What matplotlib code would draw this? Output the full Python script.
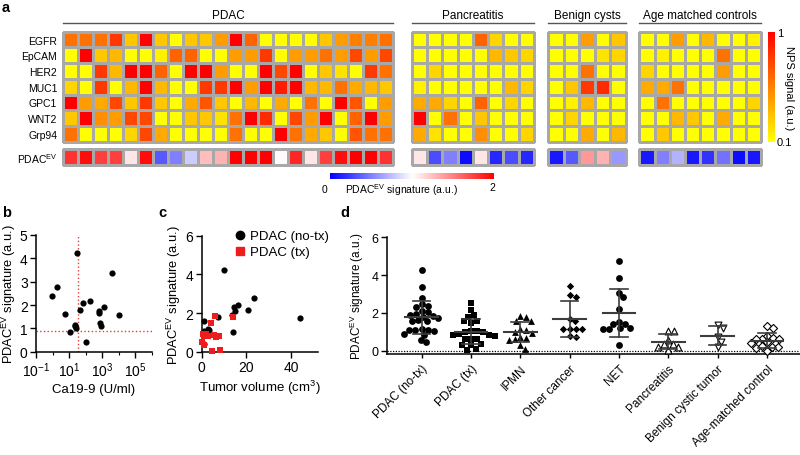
import numpy as np
import matplotlib
matplotlib.use("Agg")
import matplotlib.pyplot as plt
from matplotlib.lines import Line2D
from matplotlib.cm import ScalarMappable
from matplotlib.colors import Normalize

plt.rcParams['font.family'] = ['Liberation Sans', 'DejaVu Sans']
plt.rcParams['mathtext.fontset'] = 'custom'
plt.rcParams['mathtext.rm'] = 'Liberation Sans'
plt.rcParams['mathtext.it'] = 'Liberation Sans:italic'

""" Panel a: NPS heatmaps """
markers = ['EGFR', 'EpCAM', 'HER2', 'MUC1', 'GPC1', 'WNT2', 'Grp94']
group_names = ['PDAC', 'Pancreatitis', 'Benign cysts', 'Age matched controls']

pdac_nps = [
  [0.6, 0.6, 0.6, 0.8, 0.3, 1.0, 0.3, 0.1, 0.3, 0.3, 0.45, 1.0, 0.65, 0.1, 0.1, 0.1, 0.1, 0.3, 0.45, 0.55, 0.55, 0.6],
  [0.1, 1.0, 0.3, 0.35, 0.1, 0.1, 0.15, 0.65, 0.65, 0.1, 0.1, 0.45, 0.45, 0.8, 0.1, 0.45, 0.45, 0.6, 0.45, 0.75, 0.45, 0.75],
  [0.1, 0.1, 0.8, 0.35, 1.0, 1.0, 0.65, 0.1, 1.0, 1.0, 0.45, 0.1, 0.1, 1.0, 0.75, 1.0, 0.1, 0.3, 0.2, 0.1, 0.8, 0.6],
  [0.25, 0.1, 0.8, 0.1, 0.35, 1.0, 0.35, 0.1, 0.1, 0.8, 0.8, 1.0, 0.45, 1.0, 0.9, 1.0, 0.35, 0.35, 0.6, 0.4, 0.35, 0.3],
  [1.0, 0.45, 0.4, 0.75, 0.3, 0.8, 0.3, 0.1, 0.4, 0.7, 0.3, 0.1, 0.35, 0.1, 0.4, 0.1, 0.6, 0.1, 1.0, 0.7, 0.1, 0.45],
  [0.3, 1.0, 0.5, 0.45, 0.75, 0.75, 0.1, 0.1, 0.3, 0.3, 0.2, 0.6, 1.0, 0.85, 0.1, 0.75, 0.45, 1.0, 0.1, 0.65, 1.0, 0.45],
  [0.6, 0.1, 0.1, 0.1, 0.25, 0.75, 0.4, 0.1, 0.1, 0.1, 0.1, 0.6, 0.1, 0.1, 1.0, 0.6, 0.4, 0.3, 0.1, 0.7, 0.6, 0.6],
]
pdac_ev = [1.8, 1.95, 1.75, 1.75, 1.1, 1.95, 0.35, 0.5, 0.8, 1.25, 1.3, 2.0, 2.0, 2.0, 1.02, 1.85, 1.1, 1.75, 1.95, 2.0, 2.0, 1.8]

panc_nps = [
  [0.1, 0.1, 0.1, 0.1, 0.65, 0.25, 0.1, 0.1],
  [0.1, 0.1, 0.1, 0.1, 0.1, 0.35, 0.3, 0.25],
  [0.1, 0.25, 0.1, 0.1, 0.1, 0.1, 0.1, 0.1],
  [0.15, 0.1, 0.1, 0.1, 0.1, 0.1, 0.35, 0.25],
  [0.4, 0.4, 0.25, 0.1, 0.65, 0.1, 0.25, 0.1],
  [1.0, 0.1, 0.6, 0.1, 0.3, 0.1, 0.1, 0.1],
  [0.4, 0.2, 0.1, 0.1, 0.5, 0.1, 0.1, 0.25],
]
panc_ev = [1.1, 0.3, 0.5, 0.05, 1.1, 0.15, 0.3, 0.15]

cyst_nps = [
  [0.1, 0.1, 0.45, 0.1, 0.3],
  [0.1, 0.1, 0.1, 0.2, 0.25],
  [0.1, 0.1, 0.6, 0.1, 0.1],
  [0.1, 0.3, 0.8, 0.85, 0.1],
  [0.1, 0.15, 0.35, 0.1, 0.1],
  [0.1, 0.25, 0.1, 0.1, 0.1],
  [0.1, 0.1, 0.4, 0.1, 0.35],
]
cyst_ev = [0.1, 0.35, 1.4, 1.3, 0.6]

ctrl_nps = [
  [0.1, 0.1, 0.45, 0.1, 0.35, 0.1, 0.1, 0.15],
  [0.1, 0.15, 0.1, 0.1, 0.1, 0.6, 0.1, 0.1],
  [0.25, 0.1, 0.1, 0.1, 0.1, 0.45, 0.1, 0.1],
  [0.4, 0.4, 0.6, 0.1, 0.1, 0.1, 0.1, 0.1],
  [0.1, 0.6, 0.1, 0.1, 0.1, 0.1, 0.1, 0.25],
  [0.1, 0.1, 0.35, 0.3, 0.1, 0.4, 0.1, 0.1],
  [0.1, 0.3, 0.1, 0.1, 0.1, 0.1, 0.1, 0.1],
]
ctrl_ev = [0.1, 0.5, 0.7, 0.1, 0.2, 0.45, 0.05, 0.1]

""" Panel b: Ca19-9 vs signature """
ca199 = [0.93, 1.9, 5.5, 12, 23, 24, 25, 30, 49, 74, 112, 186, 620, 640, 760, 870, 1320, 3900, 11200]
sig_b = [2.4, 2.79, 1.61, 0.83, 1.14, 1.08, 1.02, 4.23, 1.8, 2.09, 0.43, 2.16, 1.73, 1.64, 1.21, 1.09, 1.9, 3.37, 1.59]
ca199_cut = 37
sig_cut = 0.87

""" Panel c: tumor volume vs signature """
vol_notx = [1.2, 1.2, 2.2, 3.0, 3.4, 1.0, 10.0, 7.2, 13.9, 13.6, 14.5, 14.9, 16.1, 20.9, 23.4, 43.9]
sig_notx = [1.6, 1.05, 1.09, 1.2, 1.12, 0.42, 4.24, 1.81, 1.03, 1.91, 2.29, 2.12, 2.41, 2.17, 2.79, 1.76]
vol_tx = [0.3, 1.2, 0.9, 1.9, 3.0, 4.0, 4.8, 5.5, 6.0, 6.3, 7.8, 8.2, 13.9, 0.5]
sig_tx = [0.52, 0.83, 0.36, 0.91, 0.81, 1.5, 0.05, 0.86, 1.86, 0.74, 0.79, 0.09, 1.78, 0.9]

""" Panel d: signature per cohort """
cohorts = ['PDAC (no-tx)', 'PDAC (tx)', 'IPMN', 'Other cancer', 'NET',
           'Pancreatitis', 'Benign cystic tumor', 'Age-matched control']
d_notx = [4.27, 3.39, 2.78, 2.45, 2.38, 2.32, 2.12, 2.05, 1.95, 1.9, 1.85, 1.8, 1.75,
          1.62, 1.58, 1.55, 1.15, 1.12, 1.1, 1.08, 1.05, 0.88, 0.85, 0.58, 0.45]
d_tx = [2.5, 2.15, 1.88, 1.8, 1.59, 1.55, 1.48, 1.05, 1.03, 1.0, 0.98, 0.88, 0.85,
        0.83, 0.8, 0.63, 0.6, 0.6, 0.35, 0.3, 0.3, 0.09, 0.04]
d_ipmn = [1.82, 1.78, 1.6, 1.55, 1.15, 1.1, 1.0, 0.95, 0.75, 0.65, 0.6, 0.55, 0.32, 0.12]
d_other = [3.42, 2.95, 2.86, 1.69, 1.59, 1.13, 1.13, 1.13, 1.13, 0.76, 0.72]
d_net = [4.73, 3.83, 3.07, 2.82, 2.19, 1.5, 1.41, 1.41, 1.2, 1.18, 1.16, 1.16, 0.32]
d_panc = [1.06, 1.06, 0.58, 0.35, 0.35, 0.21, 0.21, 0.02]
d_cyst = [1.36, 1.23, 0.74, 0.48, 0.18]
d_ctrl = [1.31, 1.22, 0.78, 0.69, 0.6, 0.6, 0.6, 0.44, 0.4, 0.26, 0.21, 0.18, 0.14, 0.0]

W, H = 800, 456
fig = plt.figure(figsize=(W / 100, H / 100), dpi=100)


def px_axes(x0, y0, x1, y1):
  return fig.add_axes([x0 / W, 1 - y1 / H, (x1 - x0) / W, (y1 - y0) / H])


def clean(ax):
  ax.set_xticks([])
  ax.set_yticks([])
  for s in ax.spines.values():
    s.set_visible(False)


def beeswarm(vals, xs, ys, dia):
  """ greedy swarm offsets, xs/ys = pixels per data unit """
  vals = np.asarray(vals, float)
  offs = np.zeros(len(vals))
  placed = []
  for i in np.argsort(-vals):
    y = vals[i] * ys
    cands = [0.0]
    for px, py in placed:
      dy = y - py
      if abs(dy) < dia:
        dx = np.sqrt(dia * dia - dy * dy)
        cands += [px + dx, px - dx]
    cands.sort(key=abs)
    for c in cands:
      if all((c - px) ** 2 + (y - py) ** 2 >= dia * dia - 1e-6 for px, py in placed):
        offs[i] = c
        placed.append((c, y))
        break
  return offs / xs


""" ---- panel a ---- """
nps_cmap = plt.get_cmap('autumn_r')
ev_cmap = plt.get_cmap('bwr')
grid_col = '#a8a8a8'

heat_layout = [(62.7, 393.3), (411.7, 534.0), (548.3, 625.7), (639.3, 761.0)]
heat_data = [(pdac_nps, pdac_ev), (panc_nps, panc_ev), (cyst_nps, cyst_ev), (ctrl_nps, ctrl_ev)]

for gi, (name, (x0, x1), (nps, ev)) in enumerate(zip(group_names, heat_layout, heat_data)):
  ax = px_axes(x0, 32.7, x1, 142.7)
  m = ax.pcolormesh(np.asarray(nps), cmap=nps_cmap, vmin=0.1, vmax=1.0,
                    edgecolors=grid_col, linewidth=0.75)
  m.set_clip_on(False)
  ax.set_xlim(0, len(nps[0]))
  ax.set_ylim(len(nps), 0)
  clean(ax)
  ax.plot([0, 1], [1.077, 1.077], transform=ax.transAxes, color='#555555', lw=1.0, clip_on=False)
  ax.text(0.5, 1.15, name, transform=ax.transAxes, ha='center', va='center', fontsize=8.5)
  if gi == 0:
    ax.set_yticks(np.arange(len(markers)) + 0.5)
    ax.set_yticklabels(markers, fontsize=7.5)
    ax.tick_params(axis='y', length=0, pad=4)

  axe = px_axes(x0, 150.0, x1, 165.7)
  m = axe.pcolormesh(np.asarray([ev]), cmap=ev_cmap, vmin=0, vmax=2,
                     edgecolors=grid_col, linewidth=0.75)
  m.set_clip_on(False)
  axe.set_xlim(0, len(ev))
  axe.set_ylim(1, 0)
  clean(axe)
  if gi == 0:
    axe.set_yticks([0.5])
    axe.set_yticklabels(['PDAC$^{\\rm EV}$'], fontsize=7.5)
    axe.tick_params(axis='y', length=0, pad=4)

fig.text(2 / W, 1 - 1 / H, 'a', fontsize=10.5, fontweight='bold', va='top', ha='left')

# NPS colorbar
cax = px_axes(767.7, 33.0, 775.0, 142.5)
cb = fig.colorbar(ScalarMappable(norm=Normalize(0.1, 1.0), cmap=nps_cmap), cax=cax)
cb.outline.set_visible(False)
cb.set_ticks([0.1, 1.0])
cb.set_ticklabels(['0.1', '1'])
cb.ax.tick_params(length=0, pad=1.5, labelsize=8)
cb.set_label('NPS signal (a.u.)', rotation=270, fontsize=8, labelpad=1)

# PDAC EV colorbar
cax2 = px_axes(330.0, 173.5, 494.3, 179.5)
cb2 = fig.colorbar(ScalarMappable(norm=Normalize(0, 2), cmap=ev_cmap), cax=cax2, orientation='horizontal')
cb2.outline.set_visible(False)
cb2.set_ticks([])
fig.text(324 / W, 1 - 190 / H, '0', fontsize=7.5, ha='center', va='center')
fig.text(492.7 / W, 1 - 188.5 / H, '2', fontsize=7.5, ha='center', va='center')
fig.text(401.7 / W, 1 - 190 / H, 'PDAC$^{\\rm EV}$ signature (a.u.)', fontsize=7.5, ha='center', va='center')


def style_axes(ax, labsize):
  for s in ['top', 'right']:
    ax.spines[s].set_visible(False)
  for s in ['left', 'bottom']:
    ax.spines[s].set_linewidth(1.1)
  ax.tick_params(direction='out', length=4, width=1.0, labelsize=labsize, pad=2)
  ax.tick_params(which='minor', direction='out', length=2.5, width=0.8)


sig_label = 'PDAC$^{\\rm EV}$ signature (a.u.)'

""" ---- panel b ---- """
axb = px_axes(36.0, 236.0, 151.7, 352.7)
axb.set_xscale('log')
axb.set_xlim(0.1, 1e6)
axb.set_ylim(0, 5)
axb.axvline(ca199_cut, color='#e0403a', ls=':', lw=1.0)
axb.axhline(sig_cut, color='#e0403a', ls=':', lw=1.0)
axb.scatter(ca199, sig_b, s=20, c='black', zorder=3, clip_on=False, linewidths=0)
axb.set_xticks([0.1, 10, 1e3, 1e5])
axb.set_xticklabels(['$10^{-1}$', '$10^{1}$', '$10^{3}$', '$10^{5}$'])
axb.set_xticks([1, 100, 1e4, 1e6], minor=True)
axb.set_xticklabels([], minor=True)
axb.set_yticks(range(0, 6))
style_axes(axb, 10)
axb.set_xlabel('Ca19-9 (U/ml)', fontsize=9.5, labelpad=3)
axb.set_ylabel(sig_label, fontsize=9.3, labelpad=1)
fig.text(2 / W, 1 - 206 / H, 'b', fontsize=10.5, fontweight='bold', va='top', ha='left')

""" ---- panel c ---- """
axc = px_axes(201.7, 236.7, 318.0, 352.7)
axc.set_xlim(0, 52)
axc.set_ylim(0, 6)
axc.scatter(vol_notx, sig_notx, s=20, c='black', marker='o', zorder=3, clip_on=False, linewidths=0)
axc.scatter(vol_tx, sig_tx, s=22, c='#ee1c1c', marker='s', zorder=4, clip_on=False, linewidths=0)
axc.set_xticks([0, 20, 40])
axc.set_yticks([0, 2, 4, 6])
style_axes(axc, 10)
axc.set_xlabel('Tumor volume (cm$^{3}$)', fontsize=9.5, labelpad=3)
axc.set_ylabel(sig_label, fontsize=9.3, labelpad=2)
handles = [Line2D([], [], ls='', marker='o', color='black', markersize=6, label='PDAC (no-tx)'),
           Line2D([], [], ls='', marker='s', color='#ee1c1c', markersize=6, label='PDAC (tx)')]
axc.legend(handles=handles, loc='upper left', bbox_to_anchor=(0.28, 1.05), frameon=False,
           fontsize=9.5, handlelength=0.8, handletextpad=0.4, borderpad=0, labelspacing=0.3,
           borderaxespad=0)
fig.text(158 / W, 1 - 206 / H, 'c', fontsize=10.5, fontweight='bold', va='top', ha='left')

""" ---- panel d ---- """
axd = px_axes(387.0, 238.3, 800.0, 355.0)
xlo, xhi, ylo, yhi = -0.7, 7.67, -0.17, 6
axd.set_xlim(xlo, xhi)
axd.set_ylim(ylo, yhi)
xs = 413.0 / (xhi - xlo)
ys = 116.7 / (yhi - ylo)
axd.axhline(0, color='black', ls=(0, (1, 1.2)), lw=0.9)

d_sets = [d_notx, d_tx, d_ipmn, d_other, d_net, d_panc, d_cyst, d_ctrl]
d_marks = ['o', 's', '^', 'D', 'o', '^', 'v', 'D']
d_filled = [True, True, True, True, True, False, False, False]
d_sizes = [24, 24, 24, 14, 24, 24, 24, 17]
for i, vals in enumerate(d_sets):
  offs = beeswarm(vals, xs, ys, 6.2)
  if d_filled[i]:
    axd.scatter(i + offs, vals, s=d_sizes[i], marker=d_marks[i], c='black', linewidths=0, zorder=3, clip_on=False)
  else:
    axd.scatter(i + offs, vals, s=d_sizes[i], marker=d_marks[i], facecolors='white', edgecolors='black',
                linewidths=0.8, zorder=3, clip_on=False)
  mu = np.mean(vals)
  sd = np.std(vals, ddof=1)
  lc = '#3c3c3c'
  axd.plot([i - 0.33, i + 0.33], [mu, mu], color=lc, lw=1.5, zorder=4)
  axd.plot([i, i], [mu - sd, mu + sd], color=lc, lw=1.2, zorder=4)
  axd.plot([i - 0.18, i + 0.18], [mu + sd, mu + sd], color=lc, lw=1.2, zorder=4)
  axd.plot([i - 0.18, i + 0.18], [mu - sd, mu - sd], color=lc, lw=1.2, zorder=4)

axd.set_yticks([0, 2, 4, 6])
axd.set_xticks(range(len(cohorts)))
axd.set_xticklabels(cohorts, rotation=45, ha='right', va='top', rotation_mode='anchor')
style_axes(axd, 9)
axd.tick_params(axis='x', length=3, labelsize=8.5, pad=3)
axd.set_ylabel(sig_label, fontsize=8.5, labelpad=4)
fig.text(340 / W, 1 - 206 / H, 'd', fontsize=10.5, fontweight='bold', va='top', ha='left')

fig.savefig('out.png', dpi=100)
